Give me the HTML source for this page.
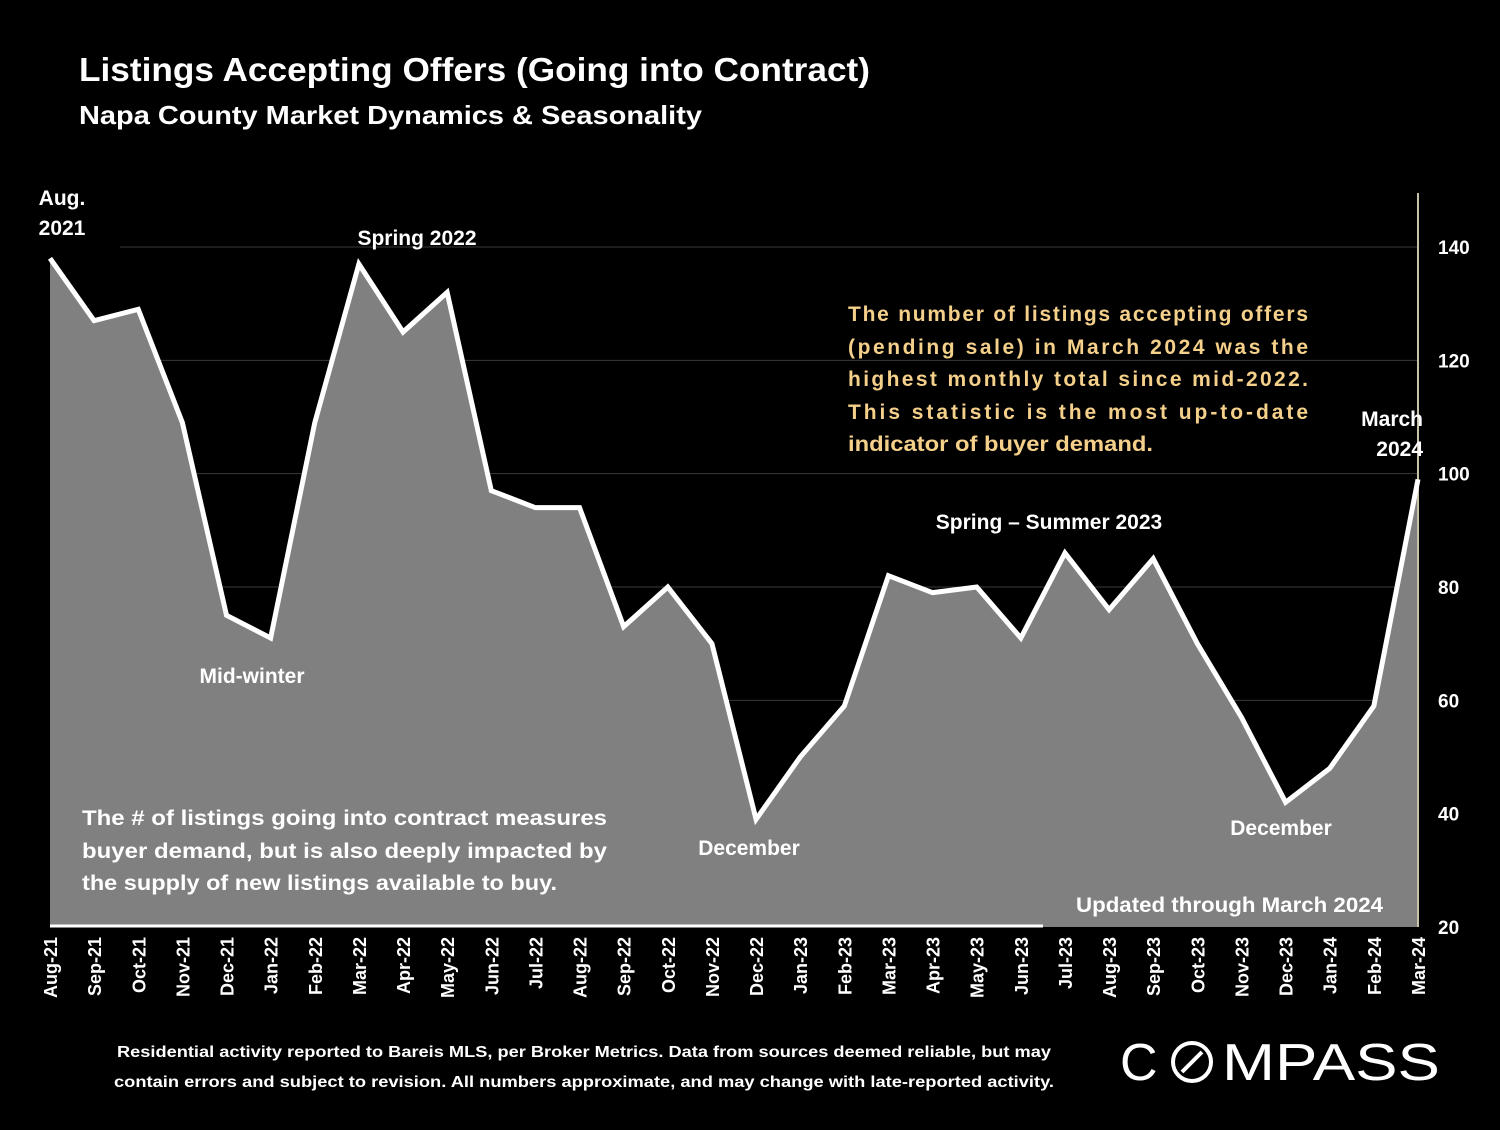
<!DOCTYPE html>
<html><head><meta charset="utf-8"><style>
body{margin:0;background:#000;width:1500px;height:1125px;overflow:hidden;font-family:"Liberation Sans",sans-serif}
svg text{font-family:"Liberation Sans",sans-serif;font-weight:bold}
</style></head><body>
<svg id="chart" width="1500" height="1125" xmlns="http://www.w3.org/2000/svg">
<rect width="1500" height="1125" fill="#000"/>
<text x="79" y="81" fill="#fff" font-size="33" textLength="791" lengthAdjust="spacingAndGlyphs">Listings Accepting Offers (Going into Contract)</text>
<text x="79" y="124" fill="#fff" font-size="26" textLength="623" lengthAdjust="spacingAndGlyphs">Napa County Market Dynamics &amp; Seasonality</text>
<g id="grid"></g>
<g id="area"></g>
<g id="xlabels"></g>
<g id="ylabels"></g>
<g fill="#fff" font-size="21">
<text x="62" y="205" text-anchor="middle">Aug.</text>
<text x="62" y="235" text-anchor="middle">2021</text>
<text x="417" y="245" text-anchor="middle">Spring 2022</text>
<text x="252" y="683" text-anchor="middle">Mid-winter</text>
<text x="749" y="855" text-anchor="middle">December</text>
<text x="1049" y="529" text-anchor="middle">Spring – Summer 2023</text>
<text x="1281" y="835" text-anchor="middle">December</text>
<text x="1423" y="426" text-anchor="end">March</text>
<text x="1423" y="456" text-anchor="end">2024</text>
<text x="1076" y="912" textLength="307" lengthAdjust="spacingAndGlyphs">Updated through March 2024</text>
<text x="82" y="825" textLength="525" lengthAdjust="spacingAndGlyphs">The # of listings going into contract measures</text>
<text x="82" y="858" textLength="525" lengthAdjust="spacingAndGlyphs">buyer demand, but is also deeply impacted by</text>
<text x="82" y="890" textLength="475" lengthAdjust="spacingAndGlyphs">the supply of new listings available to buy.</text>
</g>
<g fill="#f5d08a" font-size="21">
<text x="848" y="321" textLength="460" lengthAdjust="spacing">The number of listings accepting offers</text>
<text x="848" y="354" textLength="460" lengthAdjust="spacing">(pending sale) in March 2024 was the</text>
<text x="848" y="386" textLength="460" lengthAdjust="spacing">highest monthly total since mid-2022.</text>
<text x="848" y="419" textLength="460" lengthAdjust="spacing">This statistic is the most up-to-date</text>
<text x="848" y="451" textLength="305" lengthAdjust="spacingAndGlyphs">indicator of buyer demand.</text>
</g>
<g fill="#fff" font-size="16">
<text x="117" y="1057" textLength="934" lengthAdjust="spacingAndGlyphs">Residential activity reported to Bareis MLS, per Broker Metrics. Data from sources deemed reliable, but may</text>
<text x="114" y="1087" textLength="940" lengthAdjust="spacingAndGlyphs">contain errors and subject to revision. All numbers approximate, and may change with late-reported activity.</text>
</g>
<g>
<text x="1120" y="1080" fill="#fff" font-size="52" style="font-weight:normal">C</text>
<circle cx="1192" cy="1062" r="19" fill="none" stroke="#fff" stroke-width="4"/>
<line x1="1182" y1="1072" x2="1202" y2="1052" stroke="#fff" stroke-width="4"/>
<text x="1222" y="1080" fill="#fff" font-size="52" style="font-weight:normal" textLength="218" lengthAdjust="spacingAndGlyphs">MPASS</text>
</g>
</svg>
<script>
const categories=["Aug-21","Sep-21","Oct-21","Nov-21","Dec-21","Jan-22","Feb-22","Mar-22","Apr-22","May-22","Jun-22","Jul-22","Aug-22","Sep-22","Oct-22","Nov-22","Dec-22","Jan-23","Feb-23","Mar-23","Apr-23","May-23","Jun-23","Jul-23","Aug-23","Sep-23","Oct-23","Nov-23","Dec-23","Jan-24","Feb-24","Mar-24"];
const values=[138,127,129,109,75,71,109,137,125,132,97,94,94,73,80,70,39,50,59,82,79,80,71,86,76,85,70,57,42,48,59,99];
const yTicks=[20,40,60,80,100,120,140];
const NS="http://www.w3.org/2000/svg";
const x0=50,x1=1418,yb=927;
function xs(i){return x0+i*(x1-x0)/(categories.length-1);}
function ys(v){return yb-(v-20)*680/120;}
function mk(t,a,p){const e=document.createElementNS(NS,t);for(const k in a)e.setAttribute(k,a[k]);p.appendChild(e);return e;}
const grid=document.getElementById('grid');
yTicks.forEach(v=>{if(v>20){const l=mk('line',{x1:120,x2:1418,y1:ys(v),y2:ys(v),stroke:'#3a3a3a','stroke-width':1},grid);

}
const t=mk('text',{x:1438,y:ys(v)+7,fill:'#fff','font-size':19},document.getElementById('ylabels'));
t.textContent=v;

});
const area=document.getElementById('area');
let pts=values.map((v,i)=>xs(i)+','+ys(v)).join(' ');
const poly=mk('polygon',{points:x0+','+yb+' '+pts+' '+x1+','+yb,fill:'#808080'},area);


const ax=mk('line',{x1:1418,x2:1418,y1:193,y2:927,stroke:'#c9c0a8','stroke-width':2},area);


const bx=mk('line',{x1:50,x2:1043,y1:926,y2:926,stroke:'#fff','stroke-width':3},area);


const line=mk('polyline',{points:pts,fill:'none',stroke:'#fff','stroke-width':5,'stroke-linejoin':'miter'},area);


const xl=document.getElementById('xlabels');
categories.forEach((c,i)=>{const t=mk('text',{x:0,y:0,fill:'#fff','font-size':18,'text-anchor':'end',transform:'translate('+(xs(i)+7)+',937) rotate(-90)'},xl);
t.textContent=c;

});
</script>
</body></html>
